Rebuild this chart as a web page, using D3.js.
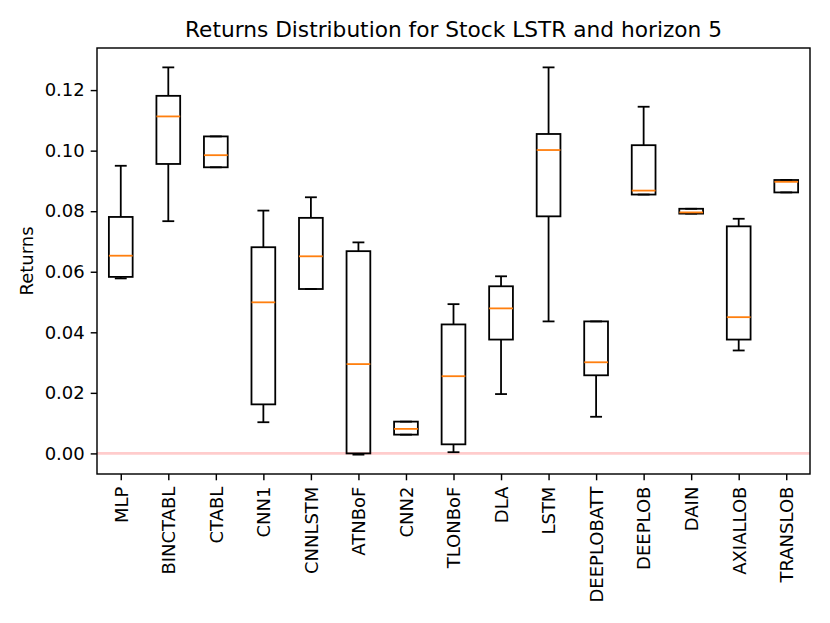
<!DOCTYPE html>
<html lang="en">
<head>
    <meta charset="UTF-8">
    <title>Returns Distribution</title>
    <script src="https://d3js.org/d3.v7.min.js"></script>
    <style>
        body {
            margin: 0;
            padding: 0;
            background-color: #fff;
            font-family: "DejaVu Sans", sans-serif;
        }
    </style>
</head>
<body>
    <svg width="830" height="623"></svg>
    <script>
        // box statistics
        const models = ["MLP", "BINCTABL", "CTABL", "CNN1", "CNNLSTM", "ATNBoF", "CNN2", "TLONBoF",
                        "DLA", "LSTM", "DEEPLOBATT", "DEEPLOB", "DAIN", "AXIALLOB", "TRANSLOB"];
        const whiskerLow  = [0.0578, 0.0767, 0.0945, 0.0103, 0.0543, -0.0004, 0.0062, 0.0004,
                             0.0196, 0.0436, 0.0121, 0.0855, 0.0792, 0.0340, 0.0862];
        const q1          = [0.0583, 0.0956, 0.0945, 0.0162, 0.0543, 0.0000, 0.0062, 0.0030,
                             0.0376, 0.0783, 0.0258, 0.0855, 0.0792, 0.0376, 0.0862];
        const medians     = [0.0653, 0.1113, 0.0985, 0.0499, 0.0651, 0.0295, 0.0081, 0.0255,
                             0.0479, 0.1002, 0.0301, 0.0868, 0.0796, 0.0450, 0.0897];
        const q3          = [0.0781, 0.1181, 0.1047, 0.0681, 0.0778, 0.0668, 0.0105, 0.0426,
                             0.0552, 0.1055, 0.0436, 0.1018, 0.0808, 0.0750, 0.0903];
        const whiskerHigh = [0.0950, 0.1275, 0.1047, 0.0802, 0.0846, 0.0697, 0.0105, 0.0493,
                             0.0585, 0.1275, 0.0436, 0.1145, 0.0808, 0.0775, 0.0903];
        const yTicks = [0.00, 0.02, 0.04, 0.06, 0.08, 0.10, 0.12];

        const svg = d3.select("svg"),
              margin = {top: 48, right: 20, bottom: 149, left: 97},
              width = +svg.attr("width") - margin.left - margin.right,
              height = +svg.attr("height") - margin.top - margin.bottom,
              g = svg.append("g").attr("transform", `translate(${margin.left},${margin.top})`);

        const data = models.map((m, i) => ({
            name: m, lo: whiskerLow[i], q1: q1[i], med: medians[i], q3: q3[i], hi: whiskerHigh[i]
        }));

        const x = d3.scalePoint().domain(models).range([0, width]).padding(0.5);
        const step = x.step();
        const y = d3.scaleLinear().domain([-0.0068, 0.1339]).range([height, 0]);

        const fs = "18px";
        const lw = 1.8;

        // zero line, light red
        g.append("line")
         .attr("x1", 0).attr("x2", width)
         .attr("y1", y(0)).attr("y2", y(0))
         .attr("stroke", "red")
         .attr("stroke-opacity", 0.2)
         .attr("stroke-width", 2.7);

        const boxW = step * 0.5, capW = boxW * 0.5;
        const box = g.selectAll(".box").data(data).join("g")
            .attr("class", "box")
            .attr("transform", d => `translate(${x(d.name)},0)`);

        box.append("line")
           .attr("y1", d => y(d.lo)).attr("y2", d => y(d.q1))
           .attr("stroke", "black").attr("stroke-width", lw);
        box.append("line")
           .attr("y1", d => y(d.q3)).attr("y2", d => y(d.hi))
           .attr("stroke", "black").attr("stroke-width", lw);
        box.append("line")
           .attr("x1", -capW / 2).attr("x2", capW / 2)
           .attr("y1", d => y(d.lo)).attr("y2", d => y(d.lo))
           .attr("stroke", "black").attr("stroke-width", lw);
        box.append("line")
           .attr("x1", -capW / 2).attr("x2", capW / 2)
           .attr("y1", d => y(d.hi)).attr("y2", d => y(d.hi))
           .attr("stroke", "black").attr("stroke-width", lw);
        box.append("rect")
           .attr("x", -boxW / 2).attr("width", boxW)
           .attr("y", d => y(d.q3))
           .attr("height", d => y(d.q1) - y(d.q3))
           .attr("fill", "none")
           .attr("stroke", "black").attr("stroke-width", lw);
        box.append("line")
           .attr("x1", -boxW / 2).attr("x2", boxW / 2)
           .attr("y1", d => y(d.med)).attr("y2", d => y(d.med))
           .attr("stroke", "#ff7f0e").attr("stroke-width", lw);

        // axes
        const yAxis = g.append("g")
            .call(d3.axisLeft(y).tickValues(yTicks).tickFormat(d3.format(".2f")).tickSizeOuter(0).tickSize(6.3).tickPadding(6));
        const xAxis = g.append("g")
            .attr("transform", `translate(0,${height})`)
            .call(d3.axisBottom(x).tickSizeOuter(0).tickSize(6.3).tickPadding(6));
        [yAxis, xAxis].forEach(a => {
            a.select(".domain").remove();
            a.selectAll(".tick line").attr("stroke-width", 1.44);
            a.selectAll("text").style("font-family", "DejaVu Sans").style("font-size", fs).attr("fill", "black");
        });
        xAxis.selectAll("text")
             .attr("transform", "rotate(-90)")
             .attr("x", -12.6).attr("y", 0)
             .attr("dy", "0.35em")
             .style("text-anchor", "end");

        // frame
        g.append("rect")
         .attr("width", width).attr("height", height)
         .attr("fill", "none")
         .attr("stroke", "black").attr("stroke-width", 1.44);

        svg.append("text")
           .attr("x", margin.left + width / 2)
           .attr("y", 37)
           .style("font-size", "21.7px")
           .style("text-anchor", "middle")
           .text("Returns Distribution for Stock LSTR and horizon 5");

        svg.append("text")
           .attr("transform", "rotate(-90)")
           .attr("x", -(margin.top + height / 2))
           .attr("y", 33)
           .style("font-size", fs)
           .style("text-anchor", "middle")
           .text("Returns");
    </script>
</body>
</html>
